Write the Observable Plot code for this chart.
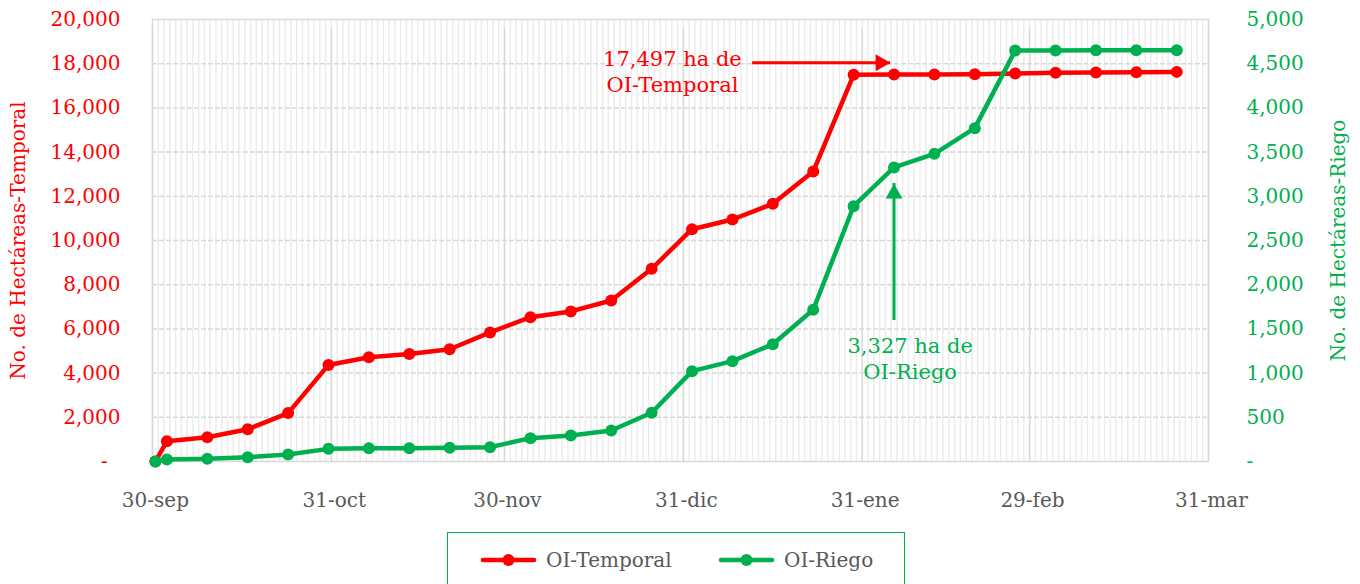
<!DOCTYPE html>
<html><head><meta charset="utf-8">
<script src="https://cdn.jsdelivr.net/npm/d3@7"></script>
<script src="https://cdn.jsdelivr.net/npm/@observablehq/plot@0.6"></script>
<style>
html,body{margin:0;padding:0;background:#fff;overflow:hidden;width:1360px;height:584px;}
#chart{position:absolute;left:0;top:0;}
#legend{position:absolute;left:447px;top:532px;width:456px;height:60px;border:1.5px solid #00B050;border-bottom:none;font-family:"DejaVu Serif";font-size:20px;color:#595959;}
.item{position:absolute;top:15px;height:24px;display:flex;align-items:center;white-space:nowrap;}
.item svg{margin-right:9px;}
</style></head><body>
<div id="chart"></div>
<div id="legend"></div>
<script>
// ---- data ----
const dates = ["2023-09-30","2023-10-02","2023-10-09","2023-10-16","2023-10-23","2023-10-30",
  "2023-11-06","2023-11-13","2023-11-20","2023-11-27","2023-12-04","2023-12-11","2023-12-18",
  "2023-12-25","2024-01-01","2024-01-08","2024-01-15","2024-01-22","2024-01-29","2024-02-05",
  "2024-02-12","2024-02-19","2024-02-26","2024-03-04","2024-03-11","2024-03-18","2024-03-25"];
const temporal = [0, 920, 1100, 1460, 2190, 4370, 4720, 4860, 5080, 5840, 6530, 6790, 7285,
  8720, 10510, 10950, 11660, 13120, 17497, 17510, 17515, 17520, 17560, 17590, 17600, 17610, 17630];
const riego = [0, 23, 30, 49, 79, 143, 151, 151, 155, 162, 264, 294, 351,
  551, 1022, 1135, 1327, 1716, 2888, 3327, 3481, 3771, 4648, 4650, 4651, 4652, 4653];
const seriesNames = ["OI-Temporal", "OI-Riego"];
const seriesColors = ["#FF0000", "#00B050"];
const axisTitles = ["No. de Hectáreas-Temporal", "No. de Hectáreas-Riego"];
const leftTicks = [0, 2000, 4000, 6000, 8000, 10000, 12000, 14000, 16000, 18000, 20000];
const rightTicks = [0, 500, 1000, 1500, 2000, 2500, 3000, 3500, 4000, 4500, 5000];
const xTickDates = ["2023-09-30","2023-10-31","2023-11-30","2023-12-31","2024-01-31","2024-02-29","2024-03-31"];
const xTickLabels = ["30-sep","31-oct","30-nov","31-dic","31-ene","29-feb","31-mar"];
const annTemporalDate = "2024-01-29";
const annRiegoDate = "2024-02-05";

// ---- helpers ----
const RATIO = leftTicks.at(-1) / rightTicks.at(-1);
const DAY = 864e5;
const day0 = s => new Date(s + "T00:00:00Z");
const mid = s => new Date(day0(s).getTime() + DAY / 2);
const fmt = v => v === 0 ? "-" : d3.format(",")(v);
const red = seriesColors[0], green = seriesColors[1];

const rows = dates.map((d, i) => ({date: mid(d), temporal: temporal[i], riego: riego[i] * RATIO}));
const start = day0(xTickDates[0]), end = day0(xTickDates.at(-1));
const dayLines = d3.utcDay.range(start, end).slice(1);
const monthLines = xTickDates.map(day0);

const iT = dates.indexOf(annTemporalDate);
const iR = dates.indexOf(annRiegoDate);
const tipT = new Date(mid(annRiegoDate).getTime() - DAY * 0.6);
const arrowRedY = 18040;
const redLabel = {x: new Date(day0("2023-12-29").getTime() + DAY * 0.1), y: 17670,
  text: `${fmt(temporal[iT])} ha de\nOI-Temporal`};
const greenLabel = {x: new Date(day0("2024-02-08").getTime() + DAY * 0.3), y: 1171 * RATIO,
  text: `${fmt(riego[iR])} ha de\nOI-Riego`};
const greenTipY = 3145 * RATIO, greenTailY = 1595 * RATIO;

const chart = Plot.plot({
  width: 1360, height: 520,
  marginLeft: 152, marginRight: 152, marginTop: 19, marginBottom: 59,
  style: {fontFamily: "DejaVu Serif", fontSize: "20px", background: "#fff", overflow: "visible"},
  x: {type: "utc", domain: [start, end], axis: null},
  y: {domain: [leftTicks[0], leftTicks.at(-1)], axis: null},
  marks: [
    Plot.ruleX(dayLines, {stroke: "#ececec", strokeWidth: 1.5}),
    Plot.ruleY(leftTicks.slice(1, -1), {stroke: "#d9d9d9", strokeWidth: 1.5, strokeDasharray: "5,2"}),
    Plot.ruleX(monthLines, {y1: leftTicks[0], y2: leftTicks.at(-1), insetBottom: -9, stroke: "#d9d9d9", strokeWidth: 1.5}),
    Plot.frame({stroke: "#d9d9d9", strokeWidth: 1.5}),
    // axes labels
    Plot.text(leftTicks, {y: d => d, frameAnchor: "left", dx: -32, textAnchor: "end",
      text: d => d === 0 ? "-\u00a0\u00a0" : fmt(d), fill: red, fontSize: 20}),
    Plot.text(rightTicks, {y: d => d * RATIO, frameAnchor: "right", dx: 38, textAnchor: "start",
      text: fmt, fill: green, fontSize: 20}),
    Plot.text(xTickDates, {x: mid, frameAnchor: "bottom", dy: 39, lineAnchor: "middle",
      text: (d, i) => xTickLabels[i], fill: "#595959", fontSize: 20}),
    Plot.text([axisTitles[0]], {frameAnchor: "left", dx: -134, rotate: -90, textAnchor: "middle", fill: red, fontSize: 20}),
    Plot.text([axisTitles[1]], {frameAnchor: "right", dx: 130, rotate: -90, textAnchor: "middle", fill: green, fontSize: 20}),
    // series
    Plot.line(rows, {x: "date", y: "temporal", stroke: red, strokeWidth: 4.5}),
    Plot.dot(rows, {x: "date", y: "temporal", r: 6, fill: red}),
    Plot.line(rows, {x: "date", y: "riego", stroke: green, strokeWidth: 4.5}),
    Plot.dot(rows, {x: "date", y: "riego", r: 6, fill: green}),
    // annotations
    Plot.ruleY([arrowRedY], {x1: day0("2024-01-12"), x2: tipT, stroke: red, strokeWidth: 3}),
    Plot.dot([arrowRedY], {x: () => tipT, y: d => d, symbol: "triangle", rotate: 90, r: 6.3, dx: -10, fill: red, stroke: "none"}),
    Plot.text([redLabel], {x: "x", y: "y", text: "text", fill: red, fontSize: 21, lineHeight: 1.2}),
    Plot.ruleX([mid(annRiegoDate)], {y1: greenTailY, y2: greenTipY, stroke: green, strokeWidth: 3}),
    Plot.dot([greenTipY], {x: () => mid(annRiegoDate), y: d => d, symbol: "triangle", r: 6.3, dy: 10, fill: green, stroke: "none"}),
    Plot.text([greenLabel], {x: "x", y: "y", text: "text", fill: green, fontSize: 21, lineHeight: 1.2})
  ]
});
document.getElementById("chart").append(chart);

// legend
const legend = document.getElementById("legend");
const lefts = [32, 270];
seriesNames.forEach((name, i) => {
  const item = document.createElement("div");
  item.className = "item";
  item.style.left = lefts[i] + "px";
  item.innerHTML = `<svg width="57" height="14"><line x1="3" x2="54" y1="7" y2="7" stroke="${seriesColors[i]}" stroke-width="4.5" stroke-linecap="round"/><circle cx="28.5" cy="7" r="6" fill="${seriesColors[i]}"/></svg><span>${name}</span>`;
  legend.append(item);
});
</script>
</body></html>
